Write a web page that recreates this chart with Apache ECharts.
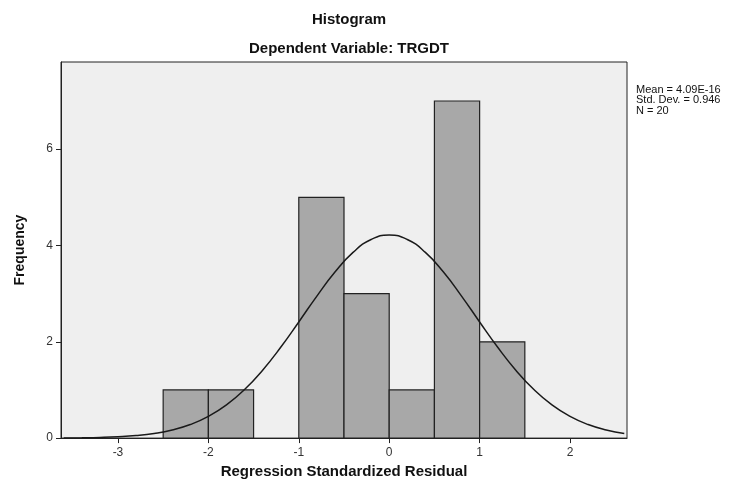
<!DOCTYPE html>
<html><head><meta charset="utf-8">
<script src="https://cdn.jsdelivr.net/npm/echarts@6/dist/echarts.min.js"></script>
<style>html,body{margin:0;padding:0;background:#fff}#c{width:749px;height:484px}</style>
</head><body><div id="c"></div>
<script>
// Histogram bins: [start, end]
const binStarts = [-2.5, -2.0, -1.0, -0.5, 0.0, 0.5, 1.0];
const binEnds   = [-2.0, -1.5, -0.5, 0.0, 0.5, 1.0, 1.5];
const binCounts = [1, 1, 5, 3, 1, 7, 2];
// Normal curve points
const curveX = [-3.6,-3.4,-3.2,-3.0,-2.8,-2.6,-2.4,-2.2,-2.0,-1.8,-1.6,-1.4,-1.2,-1.0,-0.8,-0.6,-0.4,-0.2,0.0,0.2,0.4,0.6,0.8,1.0,1.2,1.4,1.6,1.8,2.0,2.2,2.4,2.6];
const curveY = [0.003,0.007,0.014,0.028,0.053,0.097,0.169,0.282,0.451,0.690,1.009,1.411,1.886,2.412,2.949,3.449,3.856,4.124,4.217,4.124,3.856,3.449,2.949,2.412,1.886,1.411,1.009,0.690,0.451,0.282,0.169,0.097];
const xTicks = [-3, -2, -1, 0, 1, 2];
const yTicks = [0, 2, 4, 6];
const statsLines = ['Mean = 4.09E-16', 'Std. Dev. = 0.946', 'N = 20'];

const chart = echarts.init(document.getElementById('c'));
const font = 'Liberation Sans, Arial, sans-serif';
chart.setOption({
  animation: false,
  backgroundColor: '#ffffff',
  title: [
    {text: 'Histogram', left: 344, top: 7, textAlign: 'center',
     textStyle: {fontFamily: font, fontSize: 15, fontWeight: 'bold', color: '#111'}},
    {text: 'Dependent Variable: TRGDT', left: 344, top: 36, textAlign: 'center',
     textStyle: {fontFamily: font, fontSize: 15, fontWeight: 'bold', color: '#111'}}
  ],
  grid: {left: 61, right: 122, top: 62, bottom: 45, show: true,
         backgroundColor: '#efefef', borderColor: '#222', borderWidth: 1},
  xAxis: {
    type: 'value', min: -3.63, max: 2.63,
    splitLine: {show: false},
    axisLine: {show: true, onZero: false, lineStyle: {color: '#222'}},
    axisTick: {show: true, customValues: xTicks, length: 5, lineStyle: {color: '#222'}},
    axisLabel: {customValues: xTicks, fontFamily: font, fontSize: 12, color: '#333', margin: 9},
    name: 'Regression Standardized Residual', nameLocation: 'middle', nameGap: 24,
    nameTextStyle: {fontFamily: font, fontSize: 15, fontWeight: 'bold', color: '#111'}
  },
  yAxis: {
    type: 'value', min: 0, max: 7.81,
    splitLine: {show: false},
    axisLine: {show: true, onZero: false, lineStyle: {color: '#222'}},
    axisTick: {show: true, customValues: yTicks, length: 5, lineStyle: {color: '#222'}},
    axisLabel: {customValues: yTicks, fontFamily: font, fontSize: 12, color: '#333', margin: 8},
    name: 'Frequency', nameLocation: 'middle', nameGap: 34,
    nameTextStyle: {fontFamily: font, fontSize: 14, fontWeight: 'bold', color: '#111'}
  },
  series: [
    {
      type: 'custom',
      data: binStarts.map((s, i) => [s, binEnds[i], binCounts[i]]),
      renderItem: function (params, api) {
        const p0 = api.coord([api.value(0), 0]);
        const p1 = api.coord([api.value(1), api.value(2)]);
        return {
          type: 'rect',
          shape: {x: p0[0], y: p1[1], width: p1[0] - p0[0], height: p0[1] - p1[1]},
          style: {fill: '#a8a8a8', stroke: '#222', lineWidth: 1.2}
        };
      },
      z: 2
    },
    {
      type: 'line',
      data: curveX.map((x, i) => [x, curveY[i]]),
      smooth: true, showSymbol: false,
      lineStyle: {color: '#1a1a1a', width: 1.5},
      z: 3
    }
  ],
  graphic: statsLines.map((t, i) => ({
    type: 'text', left: 636, top: 84 + i * 10.5,
    style: {text: t, fontFamily: font, fontSize: 11, fill: '#111'}
  }))
});
</script></body></html>
